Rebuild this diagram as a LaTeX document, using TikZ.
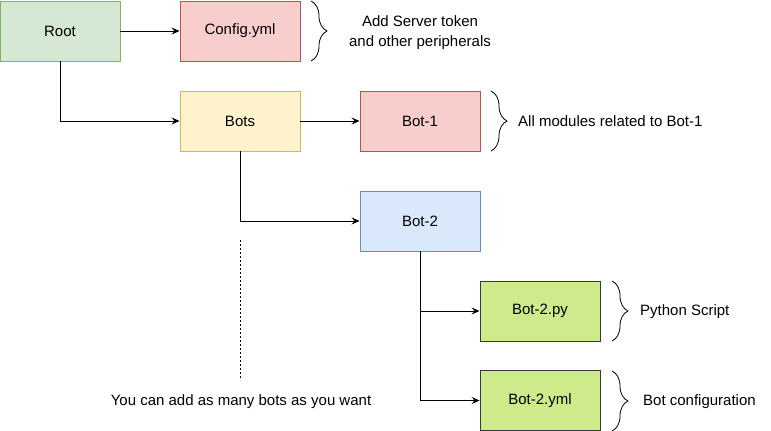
\documentclass[tikz,border=0pt]{standalone}
\usepackage{fontspec}
\setmainfont{Liberation Sans}
\usetikzlibrary{arrows.meta,decorations.pathreplacing}
\definecolor{gfill}{HTML}{D5E8D4}\definecolor{gdraw}{HTML}{82B366}
\definecolor{rfill}{HTML}{F8CECC}\definecolor{rdraw}{HTML}{B85450}
\definecolor{yfill}{HTML}{FFF2CC}\definecolor{ydraw}{HTML}{D6B656}
\definecolor{bfill}{HTML}{DAE8FC}\definecolor{bdraw}{HTML}{6C8EBF}
\definecolor{lfill}{HTML}{CDEB8B}\definecolor{ldraw}{HTML}{36393D}
\tikzset{
  box/.style={draw, line width=0.9pt, minimum width=120pt, minimum height=60pt, inner sep=0pt, font=\fontsize{15}{17}\selectfont},
  conn/.style={line width=0.9pt, -{Stealth[length=8pt,width=7pt,inset=3pt]}},
  brc/.style={line width=0.8pt, decorate, decoration={brace, amplitude=16pt}},
  lbl/.style={font=\fontsize{15}{19.5}\selectfont, inner sep=0pt, align=center}
}
\begin{document}
\begin{tikzpicture}[x=1pt,y=-1pt]
\useasboundingbox (0,0) rectangle (771,431);
\node[box, fill=gfill, draw=gdraw] (root) at (60,31) {Root};
\node[box, fill=rfill, draw=rdraw] (cfg) at (240,31) {Config.yml};
\node[box, fill=yfill, draw=ydraw] (bots) at (240,121) {Bots};
\node[box, fill=rfill, draw=rdraw] (bot1) at (420,121) {Bot-1};
\node[box, fill=bfill, draw=bdraw] (bot2) at (420,221) {Bot-2};
\node[box, fill=lfill, draw=ldraw] (py) at (540,311) {Bot-2.py};
\node[box, fill=lfill, draw=ldraw] (yml) at (540,400.5) {Bot-2.yml};

\draw[conn] (root) -- (cfg);
\draw[conn] (root.south) |- (bots.west);
\draw[conn] (bots) -- (bot1);
\draw[conn] (bots.south) |- (bot2.west);
\draw[conn] (bot2.south) |- (py.west);
\draw[conn] (bot2.south) |- (yml.west);

\coordinate (d1) at (240,240);
\coordinate (d2) at (240,380);
\draw[line width=0.8pt, dash pattern=on 2pt off 2pt] (d1) -- (d2);

\coordinate (b1a) at (311,1); \coordinate (b1b) at (311,61);
\draw[brc] (b1a) -- (b1b);
\coordinate (b2a) at (491,91); \coordinate (b2b) at (491,151);
\draw[brc] (b2a) -- (b2b);
\coordinate (b3a) at (612,281); \coordinate (b3b) at (612,341);
\draw[brc] (b3a) -- (b3b);
\coordinate (b4a) at (612,371); \coordinate (b4b) at (612,431);
\draw[brc] (b4a) -- (b4b);

\node[lbl] (t1) at (420,32.5) {Add Server token\\and other peripherals};
\node[lbl, anchor=west] (t2) at (518,121.5) {All modules related to Bot-1};
\node[lbl, anchor=west] (t3) at (640,311.5) {Python Script};
\node[lbl, anchor=west] (t4) at (643,401.5) {Bot configuration};
\node[lbl] (t5) at (241,401.5) {You can add as many bots as you want};
\end{tikzpicture}
\end{document}
